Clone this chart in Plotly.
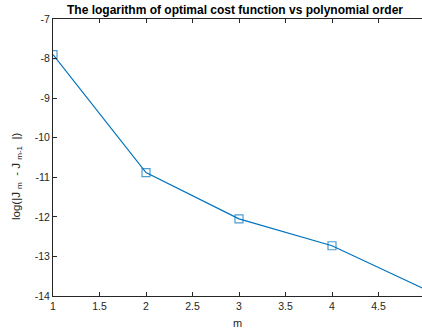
import plotly.graph_objects as go

m_vals = [1, 2, 3, 4, 5]
log_diff = [-7.90, -10.88, -12.05, -12.73, -13.83]
x_ticks = [1, 1.5, 2, 2.5, 3, 3.5, 4, 4.5]
y_ticks = [-14, -13, -12, -11, -10, -9, -8, -7]

W, H = 422, 335
L, R, T, B = 53, 0, 19, 39
pw, ph = W - L - R, H - T - B
x_end = 1 + pw / 93.0

# last point lies just outside the visible part of the axes
marker_sizes = [8 if v <= x_end else 0 for v in m_vals]

fig = go.Figure()
fig.add_trace(go.Scatter(
    x=m_vals, y=log_diff, mode="lines+markers",
    line=dict(color="#0072BD", width=1.2),
    marker=dict(symbol="square-open", size=marker_sizes, color="#0072BD", line=dict(width=1.2)),
    cliponaxis=True, showlegend=False,
))

font = "Liberation Sans, Arial, sans-serif"
nb = "\u00a0"
ylabel = f"log(|J{nb}<sub>m</sub>{nb}{nb}-{nb}J{nb}<sub>m-1</sub>{nb}{nb}|)"
fig.update_layout(
    width=W, height=H, margin=dict(l=L, r=R, t=T, b=B),
    paper_bgcolor="white", plot_bgcolor="white",
    font=dict(family=font, size=10, color="#262626"),
    xaxis=dict(range=[1, x_end], tickvals=x_ticks, ticktext=[f"{v:g}" for v in x_ticks],
               showgrid=False, zeroline=False, showline=True, linecolor="#262626", linewidth=1,
               ticks="inside", ticklen=4, tickcolor="#262626", mirror="ticks",
               tickfont=dict(size=10.5)),
    yaxis=dict(range=[-14, -7], tickvals=y_ticks, ticktext=[f"{v:g}" for v in y_ticks],
               showgrid=False, zeroline=False, showline=True, linecolor="#262626", linewidth=1,
               ticks="inside", ticklen=4, tickcolor="#262626", mirror=False,
               tickfont=dict(size=10.5)),
    annotations=[
        dict(text="<b>The logarithm of optimal cost function vs polynomial order</b>",
             xref="paper", yref="paper", x=(235 - L) / pw, y=(H - 10 - B) / ph,
             xanchor="center", yanchor="middle", showarrow=False,
             font=dict(size=12, color="black")),
        dict(text="m", xref="paper", yref="paper", x=(238 - L) / pw, y=(H - 323 - B) / ph,
             xanchor="center", yanchor="middle", showarrow=False, font=dict(size=11)),
        dict(text=ylabel, xref="paper", yref="paper",
             x=(17 - L) / pw, y=(H - 177 - B) / ph, textangle=-90,
             xanchor="center", yanchor="middle", showarrow=False, font=dict(size=11.5)),
    ],
)
fig.write_html("out.html")
